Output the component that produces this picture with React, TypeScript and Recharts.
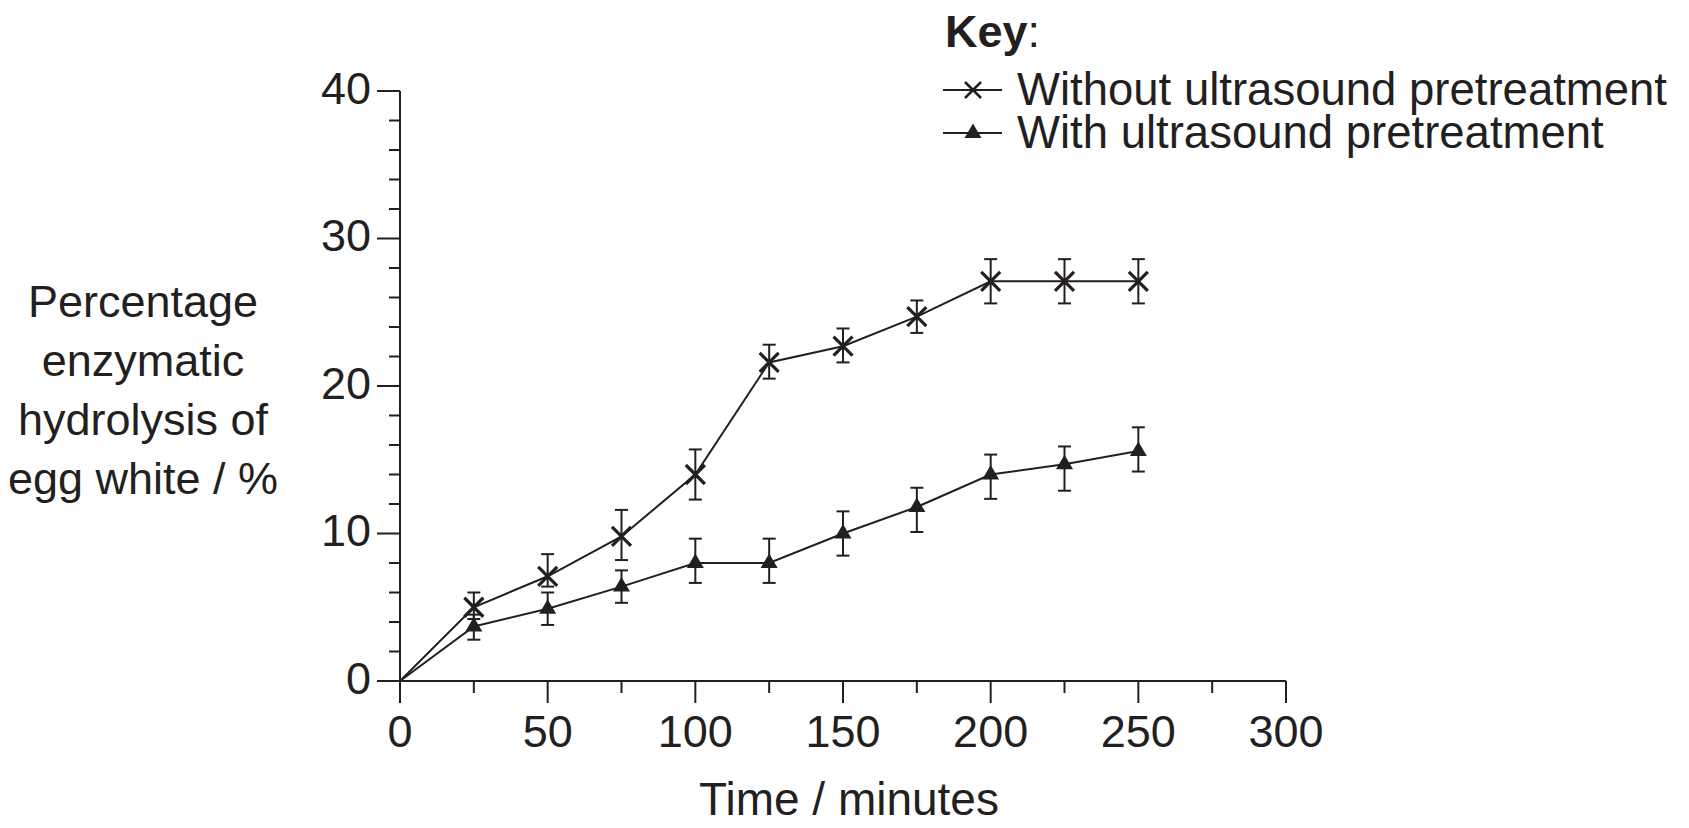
import { LineChart, Line, XAxis, YAxis, ErrorBar } from 'recharts';

const INK = '#231f20';
const FONT = '"Liberation Sans", Arial, Helvetica, sans-serif';

// sampling times (minutes)
const times = [0, 25, 50, 75, 100, 125, 150, 175, 200, 225, 250];
// percentage hydrolysis of egg white
const withoutUltrasound = [0, 5.0, 7.1, 9.8, 14.0, 21.6, 22.7, 24.7, 27.1, 27.1, 27.1];
const withUltrasound = [0, 3.7, 4.9, 6.4, 8.0, 8.0, 10.0, 11.8, 14.0, 14.7, 15.6];
// error bars as [below, above]
const withoutErrors: ([number, number] | null)[] = [
  null, [0.8, 1.0], [0.7, 1.5], [1.6, 1.8], [1.7, 1.7], [1.1, 1.2],
  [1.1, 1.2], [1.1, 1.1], [1.5, 1.5], [1.5, 1.5], [1.5, 1.5],
];
const withErrors: ([number, number] | null)[] = [
  null, [0.9, 0.8], [1.1, 1.1], [1.1, 1.1], [1.35, 1.65], [1.35, 1.65],
  [1.5, 1.5], [1.7, 1.3], [1.65, 1.35], [1.8, 1.2], [1.4, 1.6],
];

const xTicks = [0, 25, 50, 75, 100, 125, 150, 175, 200, 225, 250, 275, 300];
const yTicks = [0, 2, 4, 6, 8, 10, 12, 14, 16, 18, 20, 22, 24, 26, 28, 30, 32, 34, 36, 38, 40];

const yTitle = ['Percentage', 'enzymatic', 'hydrolysis of', 'egg white / %'];
const xTitle = 'Time / minutes';
const seriesNames = ['Without ultrasound pretreatment', 'With ultrasound pretreatment'];

const data = times.map((t, i) => ({
  time: t,
  without: withoutUltrasound[i],
  with: withUltrasound[i],
  withoutErr: withoutErrors[i],
  withErr: withErrors[i],
}));

const YTick = (props: any) => {
  const { x, y, payload } = props;
  const major = payload.value % 10 === 0;
  return (
    <g>
      <line x1={x - (major ? 23 : 11)} y1={y} x2={x} y2={y} stroke={INK} strokeWidth={2} />
      {major && (
        <text x={x - 29} y={y + 12.5} textAnchor="end" fontSize={45} fill={INK} fontFamily={FONT}>
          {payload.value}
        </text>
      )}
    </g>
  );
};

const XTick = (props: any) => {
  const { x, y, payload } = props;
  const major = payload.value % 50 === 0;
  return (
    <g>
      <line x1={x} y1={y} x2={x} y2={y + (major ? 22 : 12)} stroke={INK} strokeWidth={2} />
      {major && (
        <text x={x} y={y + 66} textAnchor="middle" fontSize={45} fill={INK} fontFamily={FONT}>
          {payload.value}
        </text>
      )}
    </g>
  );
};

const cross = (cx: number, cy: number, s: number, w: number) => (
  <>
    <line x1={cx - s} y1={cy - s} x2={cx + s} y2={cy + s} stroke={INK} strokeWidth={w} />
    <line x1={cx - s} y1={cy + s} x2={cx + s} y2={cy - s} stroke={INK} strokeWidth={w} />
  </>
);

const triangle = (cx: number, cy: number) => (
  <path d={`M${cx},${cy - 9.5} L${cx + 8.5},${cy + 5} L${cx - 8.5},${cy + 5} Z`} fill={INK} />
);

const CrossDot = (props: any) => {
  const { cx, cy, index } = props;
  if (index === 0) return <g key={`c${index}`} />;
  return <g key={`c${index}`}>{cross(cx, cy, 9.5, 3.2)}</g>;
};

const TriangleDot = (props: any) => {
  const { cx, cy, index } = props;
  if (index === 0) return <g key={`t${index}`} />;
  return <g key={`t${index}`}>{triangle(cx, cy)}</g>;
};

export default function App() {
  return (
    <div style={{ position: 'absolute', left: 0, top: 0, width: 1689, height: 828, background: '#fff' }}>
      <LineChart
        width={1689}
        height={828}
        data={data}
        margin={{ top: 91, right: 403, bottom: 87, left: 320 }}
      >
        <XAxis
          dataKey="time"
          type="number"
          domain={[0, 300]}
          ticks={xTicks}
          interval={0}
          height={60}
          tickSize={0}
          tickMargin={0}
          tickLine={false}
          tick={XTick}
          axisLine={{ stroke: INK, strokeWidth: 2 }}
        />
        <YAxis
          type="number"
          domain={[0, 40]}
          ticks={yTicks}
          interval={0}
          width={80}
          tickSize={0}
          tickMargin={0}
          tickLine={false}
          tick={YTick}
          axisLine={{ stroke: INK, strokeWidth: 2 }}
        />
        <Line
          dataKey="without"
          stroke={INK}
          strokeWidth={2}
          dot={CrossDot}
          activeDot={false}
          isAnimationActive={false}
        >
          <ErrorBar dataKey="withoutErr" direction="y" width={6.5} stroke={INK} strokeWidth={2} isAnimationActive={false} />
        </Line>
        <Line
          dataKey="with"
          stroke={INK}
          strokeWidth={2}
          dot={TriangleDot}
          activeDot={false}
          isAnimationActive={false}
        >
          <ErrorBar dataKey="withErr" direction="y" width={6.5} stroke={INK} strokeWidth={2} isAnimationActive={false} />
        </Line>
      </LineChart>
      <svg
        width={1689}
        height={828}
        style={{ position: 'absolute', left: 0, top: 0, pointerEvents: 'none' }}
        fontFamily={FONT}
        fill={INK}
      >
        {yTitle.map((line, i) => (
          <text key={line} x={143} y={317 + i * 59} textAnchor="middle" fontSize={45}>
            {line}
          </text>
        ))}
        <text x={849} y={815} textAnchor="middle" fontSize={46}>
          {xTitle}
        </text>
        <text x={945} y={47} fontSize={45}>
          <tspan fontWeight="bold">Key</tspan>:
        </text>
        <line x1={943} y1={90} x2={1002} y2={90} stroke={INK} strokeWidth={2} />
        {cross(973, 90, 8, 2.5)}
        <text x={1017} y={105} fontSize={45.5}>
          {seriesNames[0]}
        </text>
        <line x1={943} y1={133} x2={1002} y2={133} stroke={INK} strokeWidth={2} />
        {triangle(973, 133)}
        <text x={1017} y={148} fontSize={45.5}>
          {seriesNames[1]}
        </text>
      </svg>
    </div>
  );
}
